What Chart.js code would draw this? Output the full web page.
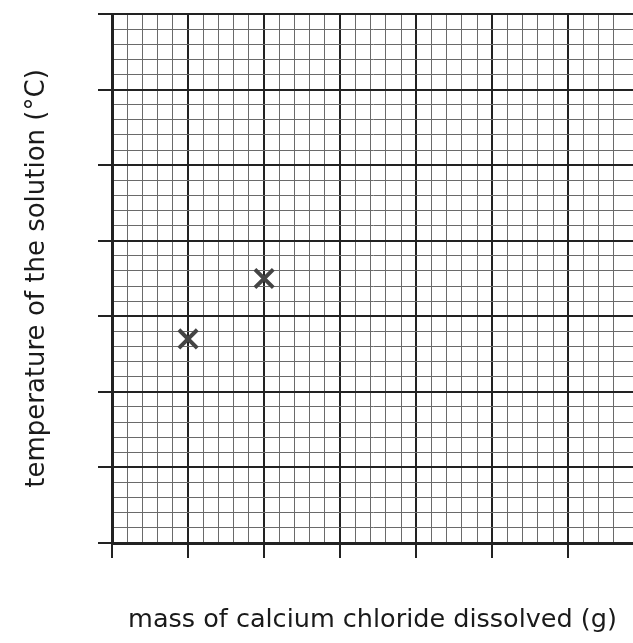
<!DOCTYPE html>
<html>
<head>
<meta charset="utf-8">
<script src="https://cdn.jsdelivr.net/npm/chart.js@4"></script>
<style>
  html, body { margin: 0; padding: 0; background: #fff; }
  #wrap { width: 633px; height: 643px; }
</style>
</head>
<body>
<div id="wrap"><canvas id="graph" width="633" height="643"></canvas></div>
<script>
// plotted points
const massDissolved = [1, 2];
const solutionTemp = [2.7, 3.5];

// axis ranges (no numbers on the paper, just squares)
const xRange = [0, 6.85];
const yRange = [0, 7];
const smallSquare = 0.2;

const isMajor = (v) => Math.abs(v - Math.round(v)) < 1e-6;
const lineColor = (ctx) => (isMajor(ctx.tick.value) ? '#222' : '#6a6a6a');
const lineWidth = (ctx) => (isMajor(ctx.tick.value) ? 2 : 1);
const tickColor = (ctx) => (isMajor(ctx.tick.value) ? '#222' : 'rgba(0,0,0,0)');

const titleFont = { family: 'DejaVu Sans', size: 26 };

new Chart(document.getElementById('graph'), {
  type: 'scatter',
  data: {
    datasets: [
      {
        label: 'results',
        data: massDissolved.map((m, i) => ({ x: m, y: solutionTemp[i] })),
        pointStyle: 'crossRot',
        pointRadius: 13,
        borderWidth: 4,
        borderColor: '#444',
        backgroundColor: '#444',
      },
    ],
  },
  options: {
    responsive: false,
    animation: false,
    devicePixelRatio: 1,
    layout: { autoPadding: false, padding: { top: 14, right: 0, left: 0, bottom: 0 } },
    plugins: { legend: { display: false }, tooltip: { enabled: false } },
    scales: {
      x: {
        type: 'linear',
        min: xRange[0],
        max: xRange[1],
        ticks: { display: false, stepSize: smallSquare },
        grid: { color: lineColor, lineWidth: lineWidth, tickColor: tickColor, tickLength: 15 },
        border: { display: true, color: '#222', width: 3 },
        title: {
          display: true,
          text: 'mass of calcium chloride dissolved (g)',
          color: '#1a1a1a',
          font: { family: 'DejaVu Sans', size: 25.5 },
          padding: { top: 0, bottom: 7 },
        },
        afterFit: (scale) => { scale.height = 100; },
      },
      y: {
        type: 'linear',
        min: yRange[0],
        max: yRange[1],
        ticks: { display: false, stepSize: smallSquare },
        grid: { color: lineColor, lineWidth: lineWidth, tickColor: tickColor, tickLength: 14 },
        border: { display: true, color: '#222', width: 3 },
        title: {
          display: true,
          text: 'temperature of the solution (°C)',
          color: '#1a1a1a',
          font: titleFont,
          padding: { top: 22, bottom: 0 },
        },
        afterFit: (scale) => { scale.width = 112; },
      },
    },
  },
});
</script>
</body>
</html>
